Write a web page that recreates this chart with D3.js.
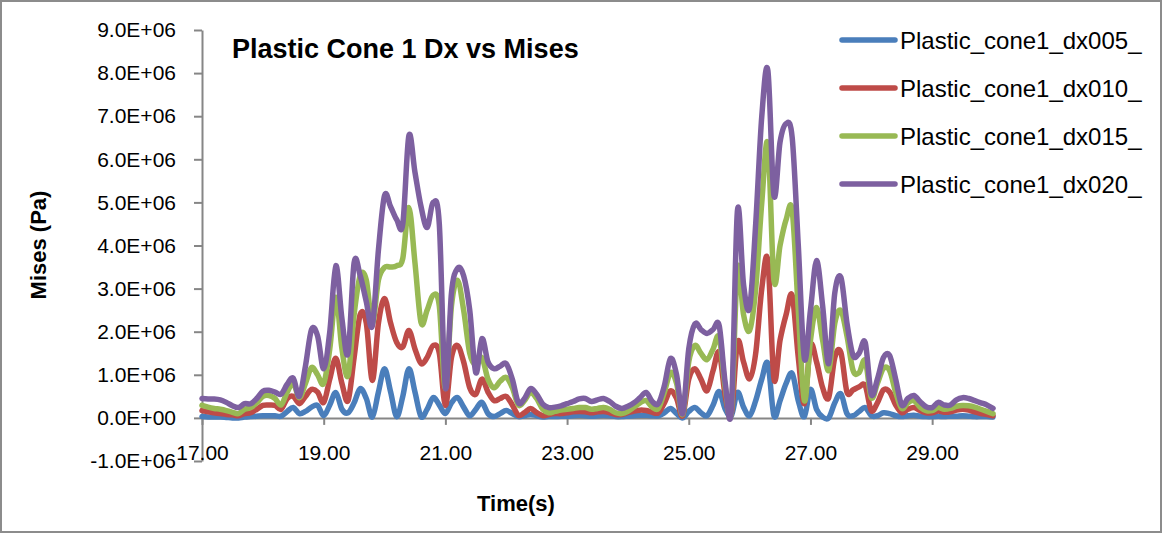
<!DOCTYPE html>
<html>
<head>
<meta charset="utf-8">
<script src="https://cdn.jsdelivr.net/npm/d3@7"></script>
<style>
  body { margin: 0; background: #fff; }
  text { font-family: "Liberation Sans", Arial, sans-serif; fill: #000; }
</style>
</head>
<body>
<script>
// time axis: samples every 0.1 s starting at 17.0 s
const tStart = 17.0, tStep = 0.1;

// von Mises stress, in units of 1.0E+06 Pa
const dx005 = [
  0.03, 0.02, 0.02, 0.02, 0.01, 0.00, 0.00, 0.02, 0.03, 0.04,
  0.05, 0.05, 0.05, 0.04, 0.15, 0.24, 0.10, 0.15, 0.25, 0.29,
  0.05, 0.30, 0.59, 0.20, 0.12, 0.35, 0.68, 0.45, 0.02, 0.60,
  1.14, 0.60, 0.03, 0.50, 1.14, 0.60, 0.03, 0.20, 0.47, 0.30,
  0.10, 0.35, 0.47, 0.25, 0.05, 0.20, 0.36, 0.10, 0.03, 0.10,
  0.17, 0.10, 0.03, 0.05, 0.08, 0.05, 0.02, 0.03, 0.03, 0.04,
  0.04, 0.05, 0.06, 0.05, 0.04, 0.05, 0.06, 0.05, 0.03, 0.03,
  0.04, 0.05, 0.06, 0.06, 0.05, 0.05, 0.12, 0.22, 0.10, 0.00,
  0.15, 0.24, 0.12, 0.05, 0.30, 0.61, 0.20, 0.05, 0.59, 0.25,
  0.05, 0.40, 0.90, 1.26, 0.05, 0.40, 0.80, 1.03, 0.40, 0.03,
  0.66, 0.20, 0.02, 0.00, 0.35, 0.56, 0.10, 0.05, 0.15, 0.24,
  0.05, 0.05, 0.12, 0.10, 0.05, 0.03, 0.05, 0.06, 0.04, 0.03,
  0.03, 0.04, 0.03, 0.04, 0.04, 0.05, 0.04, 0.03, 0.03, 0.03,
  0.02
];
const dx010 = [
  0.17, 0.14, 0.12, 0.10, 0.08, 0.07, 0.05, 0.10, 0.12, 0.20,
  0.29, 0.30, 0.29, 0.20, 0.45, 0.50, 0.33, 0.50, 0.66, 0.60,
  0.36, 0.90, 1.38, 0.80, 0.40, 1.40, 2.40, 2.20, 0.87, 2.20,
  2.77, 2.20, 1.75, 1.65, 2.03, 1.60, 1.26, 1.40, 1.68, 1.50,
  0.29, 1.40, 1.68, 1.30, 0.70, 0.55, 0.90, 0.60, 0.40, 0.45,
  0.50, 0.30, 0.06, 0.12, 0.22, 0.12, 0.05, 0.08, 0.10, 0.10,
  0.12, 0.14, 0.15, 0.14, 0.12, 0.14, 0.15, 0.12, 0.08, 0.08,
  0.12, 0.16, 0.18, 0.17, 0.13, 0.12, 0.35, 0.63, 0.45, 0.05,
  0.90, 1.14, 0.90, 0.63, 1.10, 1.52, 0.50, 0.10, 1.75, 1.30,
  0.91, 1.50, 3.00, 3.65, 0.91, 1.80, 2.40, 2.84, 1.40, 0.33,
  1.68, 1.30, 0.70, 0.47, 1.40, 1.52, 0.60, 0.65, 0.72, 0.75,
  0.17, 0.35, 0.65, 0.60, 0.30, 0.12, 0.20, 0.24, 0.17, 0.12,
  0.12, 0.16, 0.13, 0.14, 0.18, 0.20, 0.18, 0.14, 0.10, 0.08,
  0.05
];
const dx015 = [
  0.29, 0.25, 0.22, 0.20, 0.17, 0.13, 0.10, 0.20, 0.24, 0.35,
  0.50, 0.52, 0.45, 0.30, 0.60, 0.80, 0.47, 0.80, 1.17, 1.00,
  0.80, 1.60, 2.80, 1.60, 0.98, 2.40, 3.30, 3.20, 2.19, 3.20,
  3.49, 3.50, 3.53, 3.70, 4.88, 3.60, 2.21, 2.50, 2.85, 2.60,
  0.68, 2.60, 3.19, 2.50, 1.50, 1.22, 1.40, 0.90, 0.70, 0.85,
  0.94, 0.70, 0.30, 0.40, 0.59, 0.45, 0.20, 0.12, 0.15, 0.18,
  0.20, 0.22, 0.24, 0.24, 0.20, 0.22, 0.24, 0.20, 0.12, 0.10,
  0.15, 0.25, 0.35, 0.40, 0.25, 0.22, 0.60, 1.05, 0.80, 0.08,
  1.30, 1.68, 1.50, 1.35, 1.60, 1.87, 0.70, 0.15, 3.47, 2.40,
  2.03, 3.00, 5.00, 6.36, 3.19, 4.00, 4.60, 4.81, 2.50, 0.40,
  1.80, 2.56, 1.80, 1.10, 2.20, 2.49, 1.90, 1.10, 1.05, 1.33,
  0.47, 0.80, 1.15, 1.10, 0.60, 0.22, 0.35, 0.40, 0.25, 0.17,
  0.17, 0.24, 0.20, 0.22, 0.27, 0.29, 0.28, 0.25, 0.20, 0.15,
  0.10
];
const dx020 = [
  0.45, 0.44, 0.44, 0.42, 0.36, 0.28, 0.24, 0.33, 0.33, 0.45,
  0.62, 0.64, 0.60, 0.55, 0.78, 0.92, 0.50, 1.20, 2.05, 1.90,
  1.14, 2.00, 3.53, 2.30, 1.50, 3.60, 3.30, 2.70, 2.14, 3.90,
  5.16, 4.90, 4.60, 4.50, 6.55, 5.70, 4.90, 4.42, 5.00, 4.50,
  0.70, 2.90, 3.47, 3.30, 2.50, 1.05, 1.84, 1.30, 1.14, 1.20,
  1.26, 0.90, 0.35, 0.45, 0.68, 0.55, 0.32, 0.24, 0.25, 0.28,
  0.33, 0.38, 0.44, 0.45, 0.38, 0.42, 0.45, 0.38, 0.27, 0.22,
  0.27, 0.35, 0.47, 0.59, 0.38, 0.33, 0.75, 1.38, 1.00, 0.10,
  1.60, 2.18, 2.05, 1.96, 2.05, 2.14, 0.80, 0.20, 4.81, 3.10,
  2.56, 4.50, 7.00, 8.06, 5.16, 6.40, 6.83, 6.50, 4.00, 1.38,
  2.50, 3.65, 2.60, 1.26, 2.90, 3.26, 2.20, 1.45, 1.50, 1.75,
  0.55, 0.90, 1.40, 1.45, 0.90, 0.30, 0.45, 0.52, 0.38, 0.26,
  0.24, 0.36, 0.30, 0.30, 0.42, 0.47, 0.45, 0.40, 0.35, 0.30,
  0.22
];

const seriesNames = ["Plastic_cone1_dx005_", "Plastic_cone1_dx010_", "Plastic_cone1_dx015_", "Plastic_cone1_dx020_"];
const seriesValues = [dx005, dx010, dx015, dx020];
const seriesColors = ["#4A7EBB", "#BE4B48", "#98B954", "#7D60A0"];

const xTicks = [17, 19, 21, 23, 25, 27, 29];
const yTicks = [-1e6, 0, 1e6, 2e6, 3e6, 4e6, 5e6, 6e6, 7e6, 8e6, 9e6];

const W = 1162, H = 533;
const svg = d3.select("body").append("svg").attr("width", W).attr("height", H);

svg.append("rect")
  .attr("x", 1).attr("y", 1).attr("width", W - 2).attr("height", H - 2)
  .attr("fill", "#fff").attr("stroke", "#8c8c8c").attr("stroke-width", 2);

const x = d3.scaleLinear().domain([17, 30]).range([202, 993]);
const y = d3.scaleLinear().domain([-1e6, 9e6]).range([461, 30]);

const sci = d => {
  if (d === 0) return "0.0E+00";
  const e = Math.floor(Math.log10(Math.abs(d)));
  const m = d / Math.pow(10, e);
  return m.toFixed(1) + "E" + (e < 0 ? "-" : "+") + String(Math.abs(e)).padStart(2, "0");
};

const axisColor = "#868686";

const yAxis = svg.append("g").attr("transform", "translate(202,0)")
  .call(d3.axisLeft(y).tickValues(yTicks).tickFormat(sci).tickSize(8).tickSizeOuter(0).tickPadding(18));
const xAxis = svg.append("g").attr("transform", "translate(0," + y(0) + ")")
  .call(d3.axisBottom(x).tickValues(xTicks).tickFormat(d => d.toFixed(2)).tickSize(7).tickSizeOuter(0).tickPadding(20));

[yAxis, xAxis].forEach(g => {
  g.selectAll("path, line").attr("stroke", axisColor).attr("stroke-width", 2);
  g.selectAll("text").attr("font-size", 21).attr("font-family", '"Liberation Sans", Arial, sans-serif').attr("fill", "#000");
});

// Excel-style smoothing (uniform Catmull-Rom)
const line = d3.line()
  .x((d, i) => x(tStart + i * tStep))
  .y(d => y(d * 1e6))
  .curve(d3.curveCatmullRom.alpha(0));

svg.append("g").selectAll("path")
  .data(seriesValues)
  .enter().append("path")
    .attr("d", d => line(d))
    .attr("fill", "none")
    .attr("stroke", (d, i) => seriesColors[i])
    .attr("stroke-width", 5.5)
    .attr("stroke-linejoin", "round")
    .attr("stroke-linecap", "round");

// title
svg.append("text")
  .attr("x", 232).attr("y", 58)
  .attr("font-size", 27).attr("font-weight", "bold")
  .text("Plastic Cone 1 Dx vs Mises");

// axis titles
svg.append("text")
  .attr("transform", "translate(46,245) rotate(-90)")
  .attr("text-anchor", "middle")
  .attr("font-size", 22).attr("font-weight", "bold")
  .text("Mises (Pa)");
svg.append("text")
  .attr("x", 516).attr("y", 511)
  .attr("text-anchor", "middle")
  .attr("font-size", 22).attr("font-weight", "bold")
  .text("Time(s)");

// legend
const legend = svg.append("g").selectAll("g")
  .data(seriesNames)
  .enter().append("g")
    .attr("transform", (d, i) => "translate(0," + (40 + i * 48) + ")");
legend.append("line")
  .attr("x1", 842).attr("x2", 895).attr("y1", 0).attr("y2", 0)
  .attr("stroke", (d, i) => seriesColors[i])
  .attr("stroke-width", 5.5).attr("stroke-linecap", "round");
legend.append("text")
  .attr("x", 900).attr("y", 0)
  .attr("dominant-baseline", "central")
  .attr("font-size", 24)
  .text(d => d);
</script>
</body>
</html>
